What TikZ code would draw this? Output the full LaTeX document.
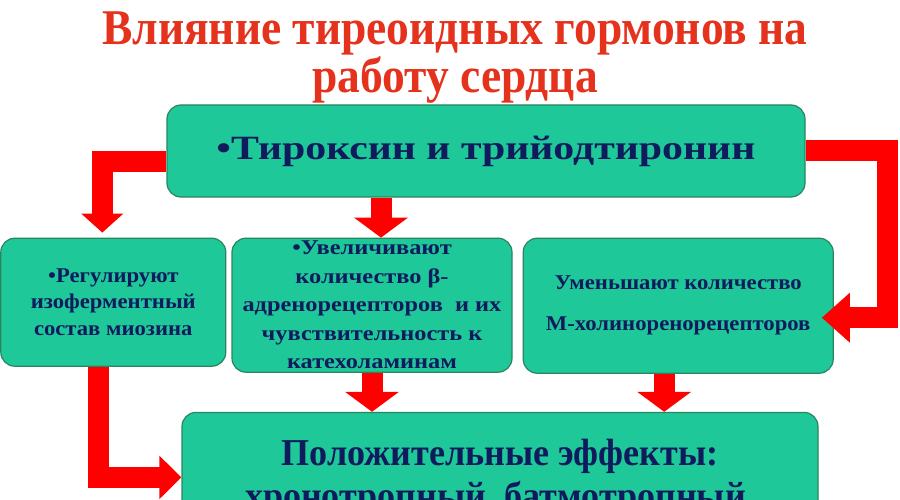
\documentclass[tikz,border=0pt]{standalone}
\usepackage{fontspec}
\setmainfont{Liberation Serif}
\newfontfamily\titlefont[FakeStretch=0.91]{Liberation Serif}
\newfontfamily\topfont[FakeStretch=1.23]{Liberation Serif}
\newfontfamily\boxfont[FakeStretch=1.08]{Liberation Serif}
\newfontfamily\betafont[FakeStretch=1.16]{Liberation Serif}
\newfontfamily\effectfont[FakeStretch=0.95]{Liberation Serif}
\usetikzlibrary{positioning, arrows.meta}
\definecolor{boxgreen}{HTML}{1FC898}
\definecolor{boxline}{HTML}{2A8560}
\definecolor{textblue}{HTML}{101B5E}
\definecolor{titlered}{HTML}{E5321C}
\definecolor{arrowred}{HTML}{FF0000}

\begin{document}
\begin{tikzpicture}[
    x=1pt, y=-1pt,
    node distance=40pt and 5pt,
    mybox/.style={rectangle, rounded corners=14pt, draw=boxline, line width=1.2pt, fill=boxgreen, align=center, text=textblue, inner sep=0pt},
    myarrow/.style={line width=21pt, draw=arrowred, line join=miter, -{Triangle[length=20pt, width=53pt]}},
    mytitle/.style={align=center, text=titlered, font=\titlefont\fontsize{50}{48}\selectfont\bfseries}
]
    \fill[white] (0,0) rectangle (900,500);
    \useasboundingbox (0,0) rectangle (900,500);
    \clip (0,0) rectangle (900,500);

    \node[mytitle] (title) at (455,58) {Влияние тиреоидных гормонов на\\работу сердца};

    \node[mybox, minimum width=638pt, minimum height=92pt, font=\topfont\fontsize{34}{40}\selectfont\bfseries] (hormones) at (486,151) {•Тироксин и трийодтиронин};

    \node[mybox, minimum width=280pt, minimum height=134pt, below=40pt of hormones, xshift=-114pt, font=\betafont\fontsize{21}{28.5}\selectfont\bfseries] (beta) {•Увеличивают\\количество β-\\адренорецепторов~~и их\\чувствительность к\\катехоламинам};
    \node[mybox, minimum width=225pt, minimum height=128pt, anchor=north east, xshift=-5pt, font=\boxfont\fontsize{21}{26.5}\selectfont\bfseries] (myosin) at (beta.north west) {•Регулируют\\изоферментный\\состав миозина};
    \node[mybox, minimum width=310pt, minimum height=135pt, anchor=north west, xshift=10pt, font=\boxfont\fontsize{21}{41}\selectfont\bfseries] (mchol) at (beta.north east) {Уменьшают количество\\М-холиноренорецепторов};

    \node[mybox, minimum width=636pt, minimum height=130pt, below=39pt of beta, xshift=128pt, font=\effectfont\fontsize{38}{43}\selectfont\bfseries] (effects) {Положительные эффекты:\\хронотропный, батмотропный,};

    \draw[myarrow, -{Triangle[length=19pt, width=41pt]}] ([yshift=-11pt]hormones.west) -| ([xshift=-11pt, yshift=5pt]myosin.north);
    \draw[myarrow] ([xshift=9pt]beta.north |- hormones.south) -- ([xshift=9pt]beta.north);
    \draw[myarrow, -{Triangle[length=28pt, width=48pt]}] (hormones.east) -| ([xshift=54pt, yshift=-12pt]mchol.east) -- ([xshift=-12pt, yshift=-12pt]mchol.east);

    \draw[myarrow, -{Triangle[length=22pt, width=42pt]}] ([xshift=-15pt]myosin.south) |- (effects.west);
    \draw[myarrow] (beta.south) -- (beta.south |- effects.north);
    \draw[myarrow] ([xshift=-14pt]mchol.south) -- ([xshift=-14pt]mchol.south |- effects.north);

\end{tikzpicture}
\end{document}
